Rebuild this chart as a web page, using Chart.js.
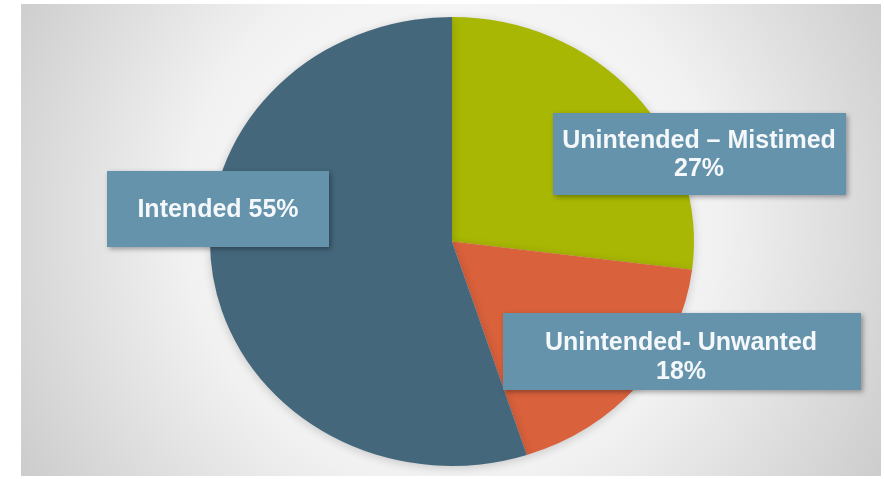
<!DOCTYPE html>
<html>
<head>
<meta charset="utf-8">
<script src="https://cdn.jsdelivr.net/npm/chart.js@4"></script>
<style>
  html, body { margin: 0; padding: 0; background: #ffffff; }
  #wrap { width: 885px; height: 479px; position: relative; }
</style>
</head>
<body>
<div id="wrap"><canvas id="pregChart" width="885" height="479"></canvas></div>
<script>
// slices, clockwise from 12 o'clock
const categories = ['Unintended – Mistimed', 'Unintended- Unwanted', 'Intended'];
const percentages = [27, 18, 55];
const sliceColors = ['#a8b703', '#d9613c', '#44677c'];

// where each label box sits (layout only, text comes from the arrays above)
const labelBoxes = [
    { x: 553, y: 113, w: 293, h: 82, lines: 2, cx: 699, cy: 141, gap: 28 },
    { x: 503, y: 313, w: 358, h: 77, lines: 2, cx: 681, cy: 343, gap: 29 },
    { x: 107, y: 171, w: 222, h: 76, lines: 1, cx: 218, cy: 210, gap: 0 }
];

const pieStretchX = 1.078; // reference pie is a little wider than tall

const backgroundPlugin = {
    id: 'slideBackground',
    beforeDraw(chart) {
        const ctx = chart.ctx;
        ctx.save();
        ctx.fillStyle = '#ffffff';
        ctx.fillRect(0, 0, chart.width, chart.height);
        const g = ctx.createRadialGradient(452, 210, 30, 452, 230, 560);
        g.addColorStop(0, '#ffffff');
        g.addColorStop(0.45, '#f1f1f1');
        g.addColorStop(1, '#c2c2c2');
        ctx.fillStyle = g;
        ctx.fillRect(21, 4, 860, 472);
        ctx.restore();
    }
};

const stretchPlugin = {
    id: 'stretchPie',
    beforeDatasetsDraw(chart) {
        const arc = chart.getDatasetMeta(0).data[0];
        const ctx = chart.ctx;
        ctx.save();
        ctx.translate(arc.x, arc.y);
        ctx.scale(pieStretchX, 1);
        ctx.translate(-arc.x, -arc.y);
        ctx.shadowColor = 'rgba(0,0,0,0.18)';
        ctx.shadowBlur = 10;
        ctx.shadowOffsetY = 2;
    },
    afterDatasetsDraw(chart) {
        chart.ctx.restore();
    }
};

const labelPlugin = {
    id: 'boxLabels',
    afterDraw(chart) {
        const ctx = chart.ctx;
        labelBoxes.forEach((b, i) => {
            ctx.save();
            ctx.shadowColor = 'rgba(0,0,0,0.35)';
            ctx.shadowBlur = 5;
            ctx.shadowOffsetX = 2;
            ctx.shadowOffsetY = 2;
            ctx.fillStyle = '#6593ac';
            ctx.fillRect(b.x, b.y, b.w, b.h);
            ctx.restore();

            ctx.save();
            ctx.fillStyle = '#f5f8fa';
            ctx.font = 'bold 25px "Liberation Sans", Arial, sans-serif';
            ctx.textAlign = 'center';
            ctx.textBaseline = 'middle';
            const pct = percentages[i] + '%';
            if (b.lines === 2) {
                ctx.fillText(categories[i], b.cx, b.cy);
                ctx.fillText(pct, b.cx, b.cy + b.gap);
            } else {
                ctx.fillText(categories[i] + ' ' + pct, b.cx, b.cy);
            }
            ctx.restore();
        });
    }
};

const ctx = document.getElementById('pregChart').getContext('2d');

new Chart(ctx, {
    type: 'pie',
    data: {
        labels: categories,
        datasets: [{
            data: percentages,
            backgroundColor: sliceColors,
            borderWidth: 0
        }]
    },
    options: {
        responsive: false,
        animation: false,
        layout: {
            padding: { top: 17, bottom: 13, left: 200, right: 181 }
        },
        plugins: {
            legend: { display: false },
            tooltip: { enabled: false }
        }
    },
    plugins: [backgroundPlugin, stretchPlugin, labelPlugin]
});
</script>
</body>
</html>
